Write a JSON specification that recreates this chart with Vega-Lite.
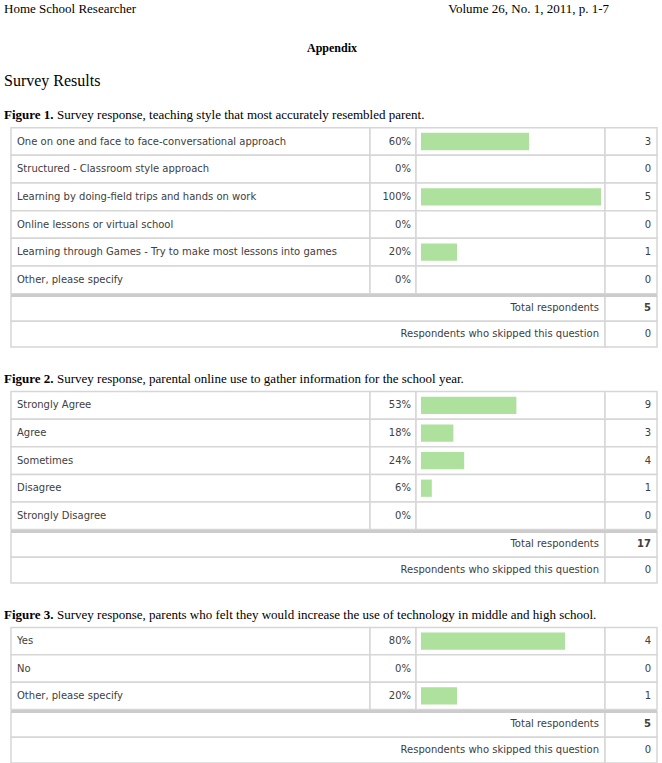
{
  "$schema": "https://vega.github.io/schema/vega-lite/v6.json",
  "padding": 0,
  "background": "white",
  "bounds": "flush",
  "spacing": 0,
  "config": {"view": {"stroke": null}},
  "vconcat": [
    {
      "width": 662,
      "height": 99.3,
      "data": {"values": [
        {"line": "running head", "side": "left", "text": "Home School Researcher"},
        {"line": "running head", "side": "right", "text": "Volume 26, No. 1, 2011, p. 1-7"},
        {"line": "heading", "side": "center", "text": "Appendix"},
        {"line": "section", "side": "left", "text": "Survey Results"}
      ]},
      "encoding": {
        "y": {"field": "line", "type": "nominal", "axis": null, "scale": {"domain": ["running head", "heading", "section"], "paddingInner": 0, "paddingOuter": 0}},
        "x": {"field": "side", "type": "nominal", "axis": null, "scale": {"type": "point", "domain": ["left", "center", "right"], "padding": 0}},
        "text": {"field": "text"}
      },
      "layer": [
        {"transform": [{"filter": "datum.line === 'running head' && datum.side === 'left'"}],
         "mark": {"type": "text", "align": "left", "baseline": "alphabetic", "font": "Liberation Serif", "fontSize": 13, "color": "black", "dx": 4, "dy": -3.85}},
        {"transform": [{"filter": "datum.side === 'right'"}],
         "mark": {"type": "text", "align": "right", "baseline": "alphabetic", "font": "Liberation Serif", "fontSize": 13, "color": "black", "dx": -53, "dy": -3.85}},
        {"transform": [{"filter": "datum.line === 'heading'"}],
         "mark": {"type": "text", "align": "center", "baseline": "alphabetic", "font": "Liberation Serif", "fontSize": 12, "fontWeight": "bold", "color": "black", "dx": 1, "dy": 2.35}},
        {"transform": [{"filter": "datum.line === 'section'"}],
         "mark": {"type": "text", "align": "left", "baseline": "alphabetic", "font": "Liberation Serif", "fontSize": 16, "color": "black", "dx": 4, "dy": 3.25}}
      ]
    },
    {
      "width": 662,
      "height": 193.7,
      "data": {"values": [
        {"row": "One on one and face to face-conversational approach", "pct": 0.6, "count": 3},
        {"row": "Structured - Classroom style approach", "pct": 0, "count": 0},
        {"row": "Learning by doing-field trips and hands on work", "pct": 1, "count": 5},
        {"row": "Online lessons or virtual school", "pct": 0, "count": 0},
        {"row": "Learning through Games - Try to make most lessons into games", "pct": 0.2, "count": 1},
        {"row": "Other, please specify", "pct": 0, "count": 0}
      ]},
      "encoding": {
        "y": {"field": "row", "type": "nominal", "axis": null, "scale": {"domain": ["Figure 1.", "One on one and face to face-conversational approach", "Structured - Classroom style approach", "Learning by doing-field trips and hands on work", "Online lessons or virtual school", "Learning through Games - Try to make most lessons into games", "Other, please specify"], "paddingInner": 0, "paddingOuter": 0}}
      },
      "layer": [
        {"mark": {"type": "rect", "fill": "white", "stroke": "#d6d6d6", "strokeWidth": 1.5},
         "encoding": {"x": {"datum": -2.27778, "axis": null, "scale": {"domain": [-2.33889, 1.33889]}}, "x2": {"datum": -0.28333}}},
        {"mark": {"type": "rect", "fill": "white", "stroke": "#d6d6d6", "strokeWidth": 1.5},
         "encoding": {"x": {"datum": -0.28333, "axis": null, "scale": {"domain": [-2.33889, 1.33889]}}, "x2": {"datum": -0.02778}}},
        {"mark": {"type": "rect", "fill": "white", "stroke": "#d6d6d6", "strokeWidth": 1.5},
         "encoding": {"x": {"datum": -0.02778, "axis": null, "scale": {"domain": [-2.33889, 1.33889]}}, "x2": {"datum": 1.02222}}},
        {"mark": {"type": "rect", "fill": "white", "stroke": "#d6d6d6", "strokeWidth": 1.5},
         "encoding": {"x": {"datum": 1.02222, "axis": null, "scale": {"domain": [-2.33889, 1.33889]}}, "x2": {"datum": 1.31111}}},
        {"mark": {"type": "bar", "color": "#aee19e", "height": {"band": 0.625}},
         "encoding": {"x": {"field": "pct", "type": "quantitative", "axis": null, "scale": {"domain": [-2.33889, 1.33889]}}, "x2": {"datum": 0}}},
        {"mark": {"type": "text", "align": "left", "baseline": "middle", "font": "DejaVu Sans", "fontSize": 10, "color": "#404040"},
         "encoding": {"x": {"datum": -2.24444, "axis": null, "scale": {"domain": [-2.33889, 1.33889]}}, "text": {"field": "row"}}},
        {"mark": {"type": "text", "align": "right", "baseline": "middle", "font": "DejaVu Sans", "fontSize": 10, "color": "#404040"},
         "encoding": {"x": {"datum": -0.05556, "axis": null, "scale": {"domain": [-2.33889, 1.33889]}}, "text": {"field": "pct", "type": "quantitative", "format": ".0%"}}},
        {"mark": {"type": "text", "align": "right", "baseline": "middle", "font": "DejaVu Sans", "fontSize": 10, "color": "#404040"},
         "encoding": {"x": {"datum": 1.27778, "axis": null, "scale": {"domain": [-2.33889, 1.33889]}}, "text": {"field": "count", "type": "quantitative"}}},
        {"data": {"values": [{"row": "Figure 1.", "caption": "Survey response, teaching style that most accurately resembled parent."}]},
         "mark": {"type": "text", "align": "left", "baseline": "alphabetic", "font": "Liberation Serif", "fontSize": 13, "fontWeight": "bold", "color": "black", "dy": 5},
         "encoding": {"x": {"datum": -2.31667, "axis": null, "scale": {"domain": [-2.33889, 1.33889]}}, "text": {"field": "row"}}},
        {"data": {"values": [{"row": "Figure 1.", "caption": "Survey response, teaching style that most accurately resembled parent."}]},
         "mark": {"type": "text", "align": "left", "baseline": "alphabetic", "font": "Liberation Serif", "fontSize": 13, "color": "black", "dy": 5, "dx": 53},
         "encoding": {"x": {"datum": -2.31667, "axis": null, "scale": {"domain": [-2.33889, 1.33889]}}, "text": {"field": "caption"}}}
      ]
    },
    {
      "width": 662,
      "height": 69.4,
      "data": {"values": [
        {"row": "Total respondents", "count": 5},
        {"row": "Respondents who skipped this question", "count": 0}
      ]},
      "encoding": {
        "y": {"field": "row", "type": "nominal", "axis": null, "scale": {"domain": ["Total respondents", "Respondents who skipped this question"], "paddingInner": 0, "paddingOuter": 0.347573, "align": 0.0838}}
      },
      "layer": [
        {"mark": {"type": "rect", "fill": "white", "stroke": "#d6d6d6", "strokeWidth": 1.5},
         "encoding": {"x": {"datum": -2.27778, "axis": null, "scale": {"domain": [-2.33889, 1.33889]}}, "x2": {"datum": 1.02222}}},
        {"mark": {"type": "rect", "fill": "white", "stroke": "#d6d6d6", "strokeWidth": 1.5},
         "encoding": {"x": {"datum": 1.02222, "axis": null, "scale": {"domain": [-2.33889, 1.33889]}}, "x2": {"datum": 1.31111}}},
        {"transform": [{"filter": "datum.row === 'Total respondents'"}],
         "mark": {"type": "rule", "color": "#cccccc", "strokeWidth": 3},
         "encoding": {"y": {"field": "row", "type": "nominal", "bandPosition": 0, "axis": null, "scale": {"domain": ["Total respondents", "Respondents who skipped this question"], "paddingInner": 0, "paddingOuter": 0.347573, "align": 0.0838}},
                      "x": {"datum": -2.27778, "axis": null, "scale": {"domain": [-2.33889, 1.33889]}}, "x2": {"datum": 1.31111}}},
        {"mark": {"type": "text", "align": "right", "baseline": "middle", "font": "DejaVu Sans", "fontSize": 10, "color": "#404040"},
         "encoding": {"x": {"datum": 0.98889, "axis": null, "scale": {"domain": [-2.33889, 1.33889]}}, "text": {"field": "row"}}},
        {"transform": [{"filter": "datum.row === 'Total respondents'"}],
         "mark": {"type": "text", "align": "right", "baseline": "middle", "font": "DejaVu Sans", "fontSize": 10, "fontWeight": "bold", "color": "#404040"},
         "encoding": {"x": {"datum": 1.27778, "axis": null, "scale": {"domain": [-2.33889, 1.33889]}}, "text": {"field": "count", "type": "quantitative"}}},
        {"transform": [{"filter": "datum.row !== 'Total respondents'"}],
         "mark": {"type": "text", "align": "right", "baseline": "middle", "font": "DejaVu Sans", "fontSize": 10, "color": "#404040"},
         "encoding": {"x": {"datum": 1.27778, "axis": null, "scale": {"domain": [-2.33889, 1.33889]}}, "text": {"field": "count", "type": "quantitative"}}}
      ]
    },
    {
      "width": 662,
      "height": 165.6,
      "data": {"values": [
        {"row": "Strongly Agree", "pct": 0.53, "count": 9},
        {"row": "Agree", "pct": 0.18, "count": 3},
        {"row": "Sometimes", "pct": 0.24, "count": 4},
        {"row": "Disagree", "pct": 0.06, "count": 1},
        {"row": "Strongly Disagree", "pct": 0, "count": 0}
      ]},
      "encoding": {
        "y": {"field": "row", "type": "nominal", "axis": null, "scale": {"domain": ["Figure 2.", "Strongly Agree", "Agree", "Sometimes", "Disagree", "Strongly Disagree"], "paddingInner": 0, "paddingOuter": 0}}
      },
      "layer": [
        {"mark": {"type": "rect", "fill": "white", "stroke": "#d6d6d6", "strokeWidth": 1.5},
         "encoding": {"x": {"datum": -2.27778, "axis": null, "scale": {"domain": [-2.33889, 1.33889]}}, "x2": {"datum": -0.28333}}},
        {"mark": {"type": "rect", "fill": "white", "stroke": "#d6d6d6", "strokeWidth": 1.5},
         "encoding": {"x": {"datum": -0.28333, "axis": null, "scale": {"domain": [-2.33889, 1.33889]}}, "x2": {"datum": -0.02778}}},
        {"mark": {"type": "rect", "fill": "white", "stroke": "#d6d6d6", "strokeWidth": 1.5},
         "encoding": {"x": {"datum": -0.02778, "axis": null, "scale": {"domain": [-2.33889, 1.33889]}}, "x2": {"datum": 1.02222}}},
        {"mark": {"type": "rect", "fill": "white", "stroke": "#d6d6d6", "strokeWidth": 1.5},
         "encoding": {"x": {"datum": 1.02222, "axis": null, "scale": {"domain": [-2.33889, 1.33889]}}, "x2": {"datum": 1.31111}}},
        {"mark": {"type": "bar", "color": "#aee19e", "height": {"band": 0.625}},
         "encoding": {"x": {"field": "pct", "type": "quantitative", "axis": null, "scale": {"domain": [-2.33889, 1.33889]}}, "x2": {"datum": 0}}},
        {"mark": {"type": "text", "align": "left", "baseline": "middle", "font": "DejaVu Sans", "fontSize": 10, "color": "#404040"},
         "encoding": {"x": {"datum": -2.24444, "axis": null, "scale": {"domain": [-2.33889, 1.33889]}}, "text": {"field": "row"}}},
        {"mark": {"type": "text", "align": "right", "baseline": "middle", "font": "DejaVu Sans", "fontSize": 10, "color": "#404040"},
         "encoding": {"x": {"datum": -0.05556, "axis": null, "scale": {"domain": [-2.33889, 1.33889]}}, "text": {"field": "pct", "type": "quantitative", "format": ".0%"}}},
        {"mark": {"type": "text", "align": "right", "baseline": "middle", "font": "DejaVu Sans", "fontSize": 10, "color": "#404040"},
         "encoding": {"x": {"datum": 1.27778, "axis": null, "scale": {"domain": [-2.33889, 1.33889]}}, "text": {"field": "count", "type": "quantitative"}}},
        {"data": {"values": [{"row": "Figure 2.", "caption": "Survey response, parental online use to gather information for the school year."}]},
         "mark": {"type": "text", "align": "left", "baseline": "alphabetic", "font": "Liberation Serif", "fontSize": 13, "fontWeight": "bold", "color": "black", "dy": 5},
         "encoding": {"x": {"datum": -2.31667, "axis": null, "scale": {"domain": [-2.33889, 1.33889]}}, "text": {"field": "row"}}},
        {"data": {"values": [{"row": "Figure 2.", "caption": "Survey response, parental online use to gather information for the school year."}]},
         "mark": {"type": "text", "align": "left", "baseline": "alphabetic", "font": "Liberation Serif", "fontSize": 13, "color": "black", "dy": 5, "dx": 53},
         "encoding": {"x": {"datum": -2.31667, "axis": null, "scale": {"domain": [-2.33889, 1.33889]}}, "text": {"field": "caption"}}}
      ]
    },
    {
      "width": 662,
      "height": 69.4,
      "data": {"values": [
        {"row": "Total respondents", "count": 17},
        {"row": "Respondents who skipped this question", "count": 0}
      ]},
      "encoding": {
        "y": {"field": "row", "type": "nominal", "axis": null, "scale": {"domain": ["Total respondents", "Respondents who skipped this question"], "paddingInner": 0, "paddingOuter": 0.347573, "align": 0.0838}}
      },
      "layer": [
        {"mark": {"type": "rect", "fill": "white", "stroke": "#d6d6d6", "strokeWidth": 1.5},
         "encoding": {"x": {"datum": -2.27778, "axis": null, "scale": {"domain": [-2.33889, 1.33889]}}, "x2": {"datum": 1.02222}}},
        {"mark": {"type": "rect", "fill": "white", "stroke": "#d6d6d6", "strokeWidth": 1.5},
         "encoding": {"x": {"datum": 1.02222, "axis": null, "scale": {"domain": [-2.33889, 1.33889]}}, "x2": {"datum": 1.31111}}},
        {"transform": [{"filter": "datum.row === 'Total respondents'"}],
         "mark": {"type": "rule", "color": "#cccccc", "strokeWidth": 3},
         "encoding": {"y": {"field": "row", "type": "nominal", "bandPosition": 0, "axis": null, "scale": {"domain": ["Total respondents", "Respondents who skipped this question"], "paddingInner": 0, "paddingOuter": 0.347573, "align": 0.0838}},
                      "x": {"datum": -2.27778, "axis": null, "scale": {"domain": [-2.33889, 1.33889]}}, "x2": {"datum": 1.31111}}},
        {"mark": {"type": "text", "align": "right", "baseline": "middle", "font": "DejaVu Sans", "fontSize": 10, "color": "#404040"},
         "encoding": {"x": {"datum": 0.98889, "axis": null, "scale": {"domain": [-2.33889, 1.33889]}}, "text": {"field": "row"}}},
        {"transform": [{"filter": "datum.row === 'Total respondents'"}],
         "mark": {"type": "text", "align": "right", "baseline": "middle", "font": "DejaVu Sans", "fontSize": 10, "fontWeight": "bold", "color": "#404040"},
         "encoding": {"x": {"datum": 1.27778, "axis": null, "scale": {"domain": [-2.33889, 1.33889]}}, "text": {"field": "count", "type": "quantitative"}}},
        {"transform": [{"filter": "datum.row !== 'Total respondents'"}],
         "mark": {"type": "text", "align": "right", "baseline": "middle", "font": "DejaVu Sans", "fontSize": 10, "color": "#404040"},
         "encoding": {"x": {"datum": 1.27778, "axis": null, "scale": {"domain": [-2.33889, 1.33889]}}, "text": {"field": "count", "type": "quantitative"}}}
      ]
    },
    {
      "width": 662,
      "height": 109.6,
      "data": {"values": [
        {"row": "Yes", "pct": 0.8, "count": 4},
        {"row": "No", "pct": 0, "count": 0},
        {"row": "Other, please specify", "pct": 0.2, "count": 1}
      ]},
      "encoding": {
        "y": {"field": "row", "type": "nominal", "axis": null, "scale": {"domain": ["Figure 3.", "Yes", "No", "Other, please specify"], "paddingInner": 0, "paddingOuter": 0}}
      },
      "layer": [
        {"mark": {"type": "rect", "fill": "white", "stroke": "#d6d6d6", "strokeWidth": 1.5},
         "encoding": {"x": {"datum": -2.27778, "axis": null, "scale": {"domain": [-2.33889, 1.33889]}}, "x2": {"datum": -0.28333}}},
        {"mark": {"type": "rect", "fill": "white", "stroke": "#d6d6d6", "strokeWidth": 1.5},
         "encoding": {"x": {"datum": -0.28333, "axis": null, "scale": {"domain": [-2.33889, 1.33889]}}, "x2": {"datum": -0.02778}}},
        {"mark": {"type": "rect", "fill": "white", "stroke": "#d6d6d6", "strokeWidth": 1.5},
         "encoding": {"x": {"datum": -0.02778, "axis": null, "scale": {"domain": [-2.33889, 1.33889]}}, "x2": {"datum": 1.02222}}},
        {"mark": {"type": "rect", "fill": "white", "stroke": "#d6d6d6", "strokeWidth": 1.5},
         "encoding": {"x": {"datum": 1.02222, "axis": null, "scale": {"domain": [-2.33889, 1.33889]}}, "x2": {"datum": 1.31111}}},
        {"mark": {"type": "bar", "color": "#aee19e", "height": {"band": 0.625}},
         "encoding": {"x": {"field": "pct", "type": "quantitative", "axis": null, "scale": {"domain": [-2.33889, 1.33889]}}, "x2": {"datum": 0}}},
        {"mark": {"type": "text", "align": "left", "baseline": "middle", "font": "DejaVu Sans", "fontSize": 10, "color": "#404040"},
         "encoding": {"x": {"datum": -2.24444, "axis": null, "scale": {"domain": [-2.33889, 1.33889]}}, "text": {"field": "row"}}},
        {"mark": {"type": "text", "align": "right", "baseline": "middle", "font": "DejaVu Sans", "fontSize": 10, "color": "#404040"},
         "encoding": {"x": {"datum": -0.05556, "axis": null, "scale": {"domain": [-2.33889, 1.33889]}}, "text": {"field": "pct", "type": "quantitative", "format": ".0%"}}},
        {"mark": {"type": "text", "align": "right", "baseline": "middle", "font": "DejaVu Sans", "fontSize": 10, "color": "#404040"},
         "encoding": {"x": {"datum": 1.27778, "axis": null, "scale": {"domain": [-2.33889, 1.33889]}}, "text": {"field": "count", "type": "quantitative"}}},
        {"data": {"values": [{"row": "Figure 3.", "caption": "Survey response, parents who felt they would increase the use of technology in middle and high school."}]},
         "mark": {"type": "text", "align": "left", "baseline": "alphabetic", "font": "Liberation Serif", "fontSize": 13, "fontWeight": "bold", "color": "black", "dy": 5},
         "encoding": {"x": {"datum": -2.31667, "axis": null, "scale": {"domain": [-2.33889, 1.33889]}}, "text": {"field": "row"}}},
        {"data": {"values": [{"row": "Figure 3.", "caption": "Survey response, parents who felt they would increase the use of technology in middle and high school."}]},
         "mark": {"type": "text", "align": "left", "baseline": "alphabetic", "font": "Liberation Serif", "fontSize": 13, "color": "black", "dy": 5, "dx": 53},
         "encoding": {"x": {"datum": -2.31667, "axis": null, "scale": {"domain": [-2.33889, 1.33889]}}, "text": {"field": "caption"}}}
      ]
    },
    {
      "width": 662,
      "height": 53,
      "data": {"values": [
        {"row": "Total respondents", "count": 5},
        {"row": "Respondents who skipped this question", "count": 0}
      ]},
      "encoding": {
        "y": {"field": "row", "type": "nominal", "axis": null, "scale": {"domain": ["Total respondents", "Respondents who skipped this question"], "paddingInner": 0, "paddingOuter": 0.02913, "align": 1}}
      },
      "layer": [
        {"mark": {"type": "rect", "fill": "white", "stroke": "#d6d6d6", "strokeWidth": 1.5},
         "encoding": {"x": {"datum": -2.27778, "axis": null, "scale": {"domain": [-2.33889, 1.33889]}}, "x2": {"datum": 1.02222}}},
        {"mark": {"type": "rect", "fill": "white", "stroke": "#d6d6d6", "strokeWidth": 1.5},
         "encoding": {"x": {"datum": 1.02222, "axis": null, "scale": {"domain": [-2.33889, 1.33889]}}, "x2": {"datum": 1.31111}}},
        {"transform": [{"filter": "datum.row === 'Total respondents'"}],
         "mark": {"type": "rule", "color": "#cccccc", "strokeWidth": 3},
         "encoding": {"y": {"field": "row", "type": "nominal", "bandPosition": 0, "axis": null, "scale": {"domain": ["Total respondents", "Respondents who skipped this question"], "paddingInner": 0, "paddingOuter": 0.02913, "align": 1}},
                      "x": {"datum": -2.27778, "axis": null, "scale": {"domain": [-2.33889, 1.33889]}}, "x2": {"datum": 1.31111}}},
        {"mark": {"type": "text", "align": "right", "baseline": "middle", "font": "DejaVu Sans", "fontSize": 10, "color": "#404040"},
         "encoding": {"x": {"datum": 0.98889, "axis": null, "scale": {"domain": [-2.33889, 1.33889]}}, "text": {"field": "row"}}},
        {"transform": [{"filter": "datum.row === 'Total respondents'"}],
         "mark": {"type": "text", "align": "right", "baseline": "middle", "font": "DejaVu Sans", "fontSize": 10, "fontWeight": "bold", "color": "#404040"},
         "encoding": {"x": {"datum": 1.27778, "axis": null, "scale": {"domain": [-2.33889, 1.33889]}}, "text": {"field": "count", "type": "quantitative"}}},
        {"transform": [{"filter": "datum.row !== 'Total respondents'"}],
         "mark": {"type": "text", "align": "right", "baseline": "middle", "font": "DejaVu Sans", "fontSize": 10, "color": "#404040"},
         "encoding": {"x": {"datum": 1.27778, "axis": null, "scale": {"domain": [-2.33889, 1.33889]}}, "text": {"field": "count", "type": "quantitative"}}}
      ]
    }
  ]
}
